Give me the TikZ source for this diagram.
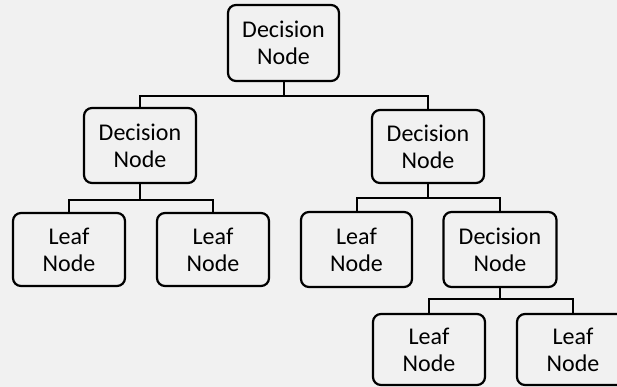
\documentclass[tikz,border=0pt]{standalone}
\usepackage{fontspec}
\setmainfont{Carlito}
\definecolor{bg}{HTML}{F1F1F1}
\begin{document}
\begin{tikzpicture}[x=1pt,y=-1pt,
  box/.style={draw=black, line width=2.2pt, rounded corners=8pt, align=center,
    inner sep=0pt, minimum width=112pt, minimum height=74pt,
    font=\fontsize{24}{27}\selectfont},
  conn/.style={draw=black, line width=2pt}]
\fill[bg] (0,0) rectangle (617,387);
\useasboundingbox (0,0) rectangle (617,387);
\begin{scope}
\clip (0,0) rectangle (617,387);
\node[box, minimum width=111pt, minimum height=76pt] (top) at (283.5,43) {Decision\\Node};
\node[box, minimum height=75pt] (dl) at (140,145.5) {Decision\\Node};
\node[box, minimum height=73pt] (dr) at (428,146.5) {Decision\\Node};
\node[box, minimum height=73pt] (l1) at (69,249.5) {Leaf\\Node};
\node[box, minimum height=73pt] (l2) at (213,249.5) {Leaf\\Node};
\node[box, minimum width=111pt, minimum height=75pt] (l3) at (356.5,249.5) {Leaf\\Node};
\node[box, minimum width=113pt, minimum height=75pt] (d3) at (500,249.5) {Decision\\Node};
\node[box, minimum height=71pt] (l4) at (429,349.5) {Leaf\\Node};
\node[box, minimum height=71pt] (l5) at (573,349.5) {Leaf\\Node};
\draw[conn] (top.south) -- ++(0,14) -| (dl.north);
\draw[conn] (top.south) -- ++(0,14) -| (dr.north);
\draw[conn] (dl.south) -- ++(0,16) -| (l1.north);
\draw[conn] (dl.south) -- ++(0,16) -| (l2.north);
\draw[conn] (dr.south) -- ++(0,14) -| (l3.north);
\draw[conn] (dr.south) -- ++(0,14) -| (d3.north);
\draw[conn] (d3.south) -- ++(0,11) -| (l4.north);
\draw[conn] (d3.south) -- ++(0,11) -| (l5.north);
\end{scope}
\end{tikzpicture}
\end{document}
